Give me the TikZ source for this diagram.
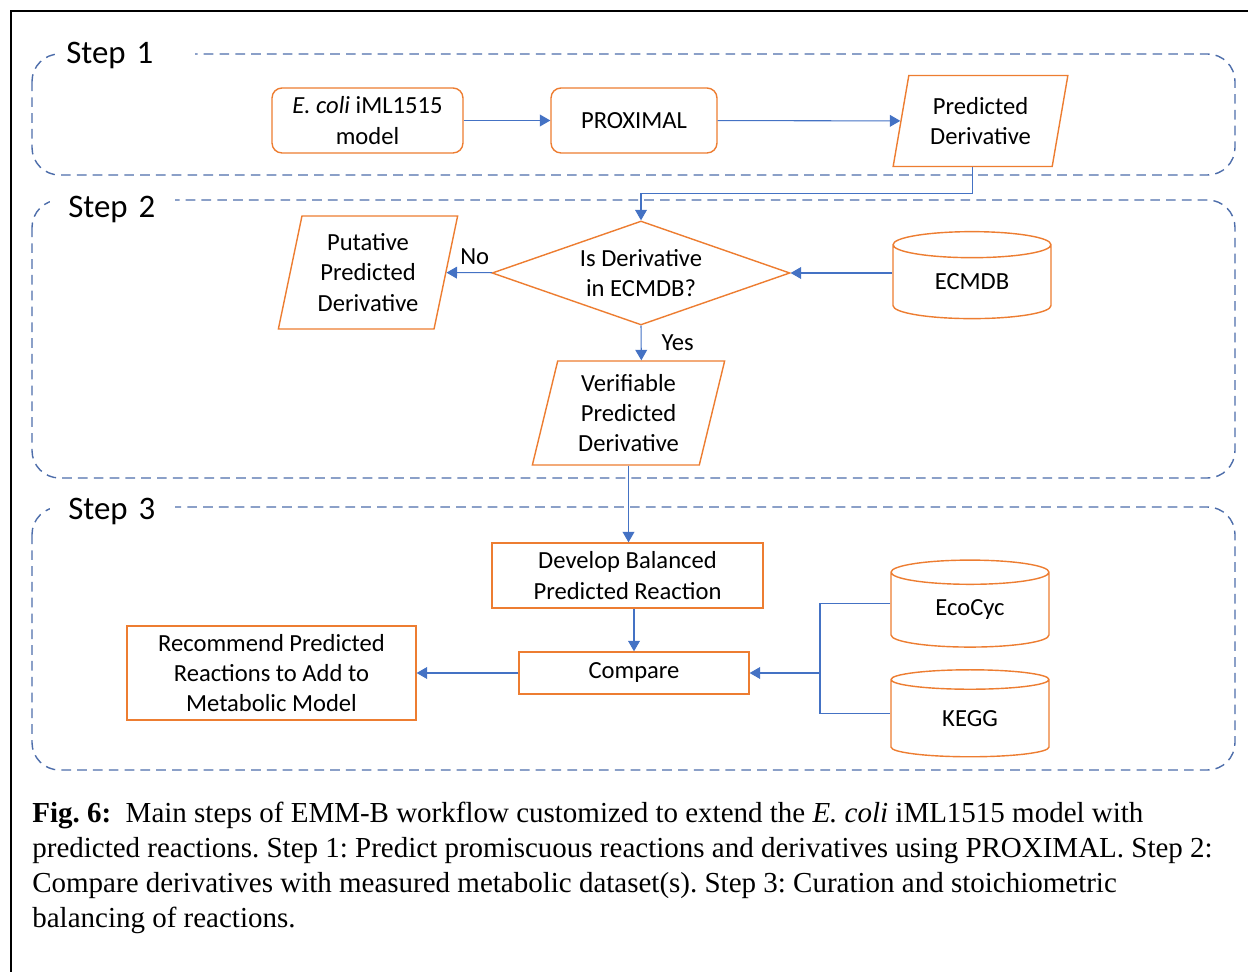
\documentclass[tikz,border=0pt]{standalone}
\usepackage{fontspec}
\setmainfont{Carlito}
\newfontfamily\capfont{Liberation Serif}
\usetikzlibrary{arrows}
\usetikzlibrary{shapes.geometric}
\frenchspacing

\definecolor{boxorange}{HTML}{ED7D31}
\definecolor{lineblue}{HTML}{4472C4}
\definecolor{grpblue}{HTML}{4D6DAA}

\tikzset{
 box/.style={draw=boxorange, line width=0.8pt, fill=white, align=center, inner sep=0pt,
   font=\fontsize{14}{17.3}\selectfont},
 rbox/.style={box, rounded corners=0.2cm},
 slant/.style={box, trapezium, trapezium left angle=77, trapezium right angle=103, trapezium stretches=true},
 ask/.style={box, diamond, aspect=2.9},
 db/.style={box, cylinder, shape border rotate=90, aspect=0.35, minimum width=3.16cm, minimum height=1.74cm},
 grp/.style={draw=grpblue, line width=0.8pt, dash pattern=on 5.5pt off 3.5pt, rounded corners=0.55cm},
 lbl/.style={fill=white, anchor=west, align=left, minimum height=1cm, font=\fontsize{18.7}{22}\selectfont},
 conn/.style={draw=lineblue, line width=0.6pt, >=triangle 60},
}

\begin{document}
\begin{tikzpicture}[x=0.02cm, y=-0.02cm]
\useasboundingbox (0,0) rectangle (1248,972);
\draw[line width=1.4pt] (11,972) -- (11,11) -- (1248,11);

% step frames
\draw[grp] (32,54) rectangle (1235,175);
\draw[grp] (32,200) rectangle (1235,478);
\draw[grp] (32,507) rectangle (1235,770);
\node[lbl, inner xsep=0.22cm, text width=2.36cm] (step1) at (55,55) {Step 1};
\node[lbl, inner xsep=0.36cm, text width=1.78cm] (step2) at (50,209) {Step 2};
\node[lbl, inner xsep=0.36cm, text width=1.78cm] (step3) at (50,511) {Step 3};

% step 1
\node[rbox, minimum width=3.82cm, minimum height=1.30cm] (ecoli) at (367.5,120.5) {\textit{E. coli} iML1515\\model};
\node[rbox, minimum width=3.32cm, minimum height=1.30cm] (proximal) at (634,120.5) {PROXIMAL};
\node[slant, minimum width=3.5cm, minimum height=1.82cm] (pred) at (980.5,121) {Predicted\\Derivative};

% step 2
\node[slant, minimum width=3.6cm, minimum height=2.26cm] (putative) at (368,272.5) {Putative\\Predicted\\Derivative};
\node[ask, minimum width=5.96cm, minimum height=2.08cm] (isecmdb) at (641,273) {Is Derivative\\in ECMDB?};
\node[db] (ecmdb) at (972,282) {ECMDB};
\node[slant, minimum width=3.86cm, minimum height=2.08cm] (verif) at (628.5,413) {Verifiable\\Predicted\\Derivative};

% step 3
\node[box, minimum width=5.42cm, minimum height=1.30cm] (develop) at (627.5,575.5) {Develop Balanced\\Predicted Reaction};
\node[box, minimum width=4.6cm, minimum height=0.84cm] (compare) at (634,673) {Compare};
\node[box, minimum width=5.78cm, minimum height=1.88cm] (recommend) at (271.5,673) {Recommend Predicted\\Reactions to Add to\\Metabolic Model};
\node[db] (ecocyc) at (970,610) {EcoCyc};
\node[db] (kegg) at (970,718.5) {KEGG};
\coordinate (joint) at (820,673);

% connectors
\draw[conn, ->] (ecoli) -- (proximal);
\draw[conn, ->] (proximal) -- (pred);
\draw[conn, ->] (pred.bottom side) -- ++(0,26) -| (isecmdb.north);
\draw[conn, ->] (ecmdb.west |- isecmdb) -- (isecmdb.east);
\draw[conn, ->] (isecmdb) -- node[pos=0.38, above=1pt, font=\fontsize{14}{17}\selectfont] {No} (putative);
\draw[conn, ->] (isecmdb.south) -- node[right=8pt, font=\fontsize{14}{17}\selectfont] {Yes} (verif.top side);
\draw[conn, ->] (verif.south) -- (verif.south |- develop.north);
\draw[conn, ->] (compare.north |- develop.south) -- (compare.north);
\draw[conn, ->] (compare) -- (recommend);
\draw[conn] (ecocyc.west |- ecocyc.shape center) -| (joint) |- (kegg.west |- kegg.shape center);
\draw[conn, ->] (joint) -- (compare.east);

% caption
\node[anchor=base west, align=left, inner sep=0pt, font=\capfont\fontsize{16.5}{20.1}\selectfont] (caption) at (32,928)
 {\textbf{Fig. 6:}\ \ Main steps of EMM-B workflow customized to extend the \textit{E. coli} iML1515 model with\\
  predicted reactions. Step 1: Predict promiscuous reactions and derivatives using PROXIMAL. Step 2:\\
  Compare derivatives with measured metabolic dataset(s). Step 3: Curation and stoichiometric\\
  balancing of reactions.};
\end{tikzpicture}
\end{document}
